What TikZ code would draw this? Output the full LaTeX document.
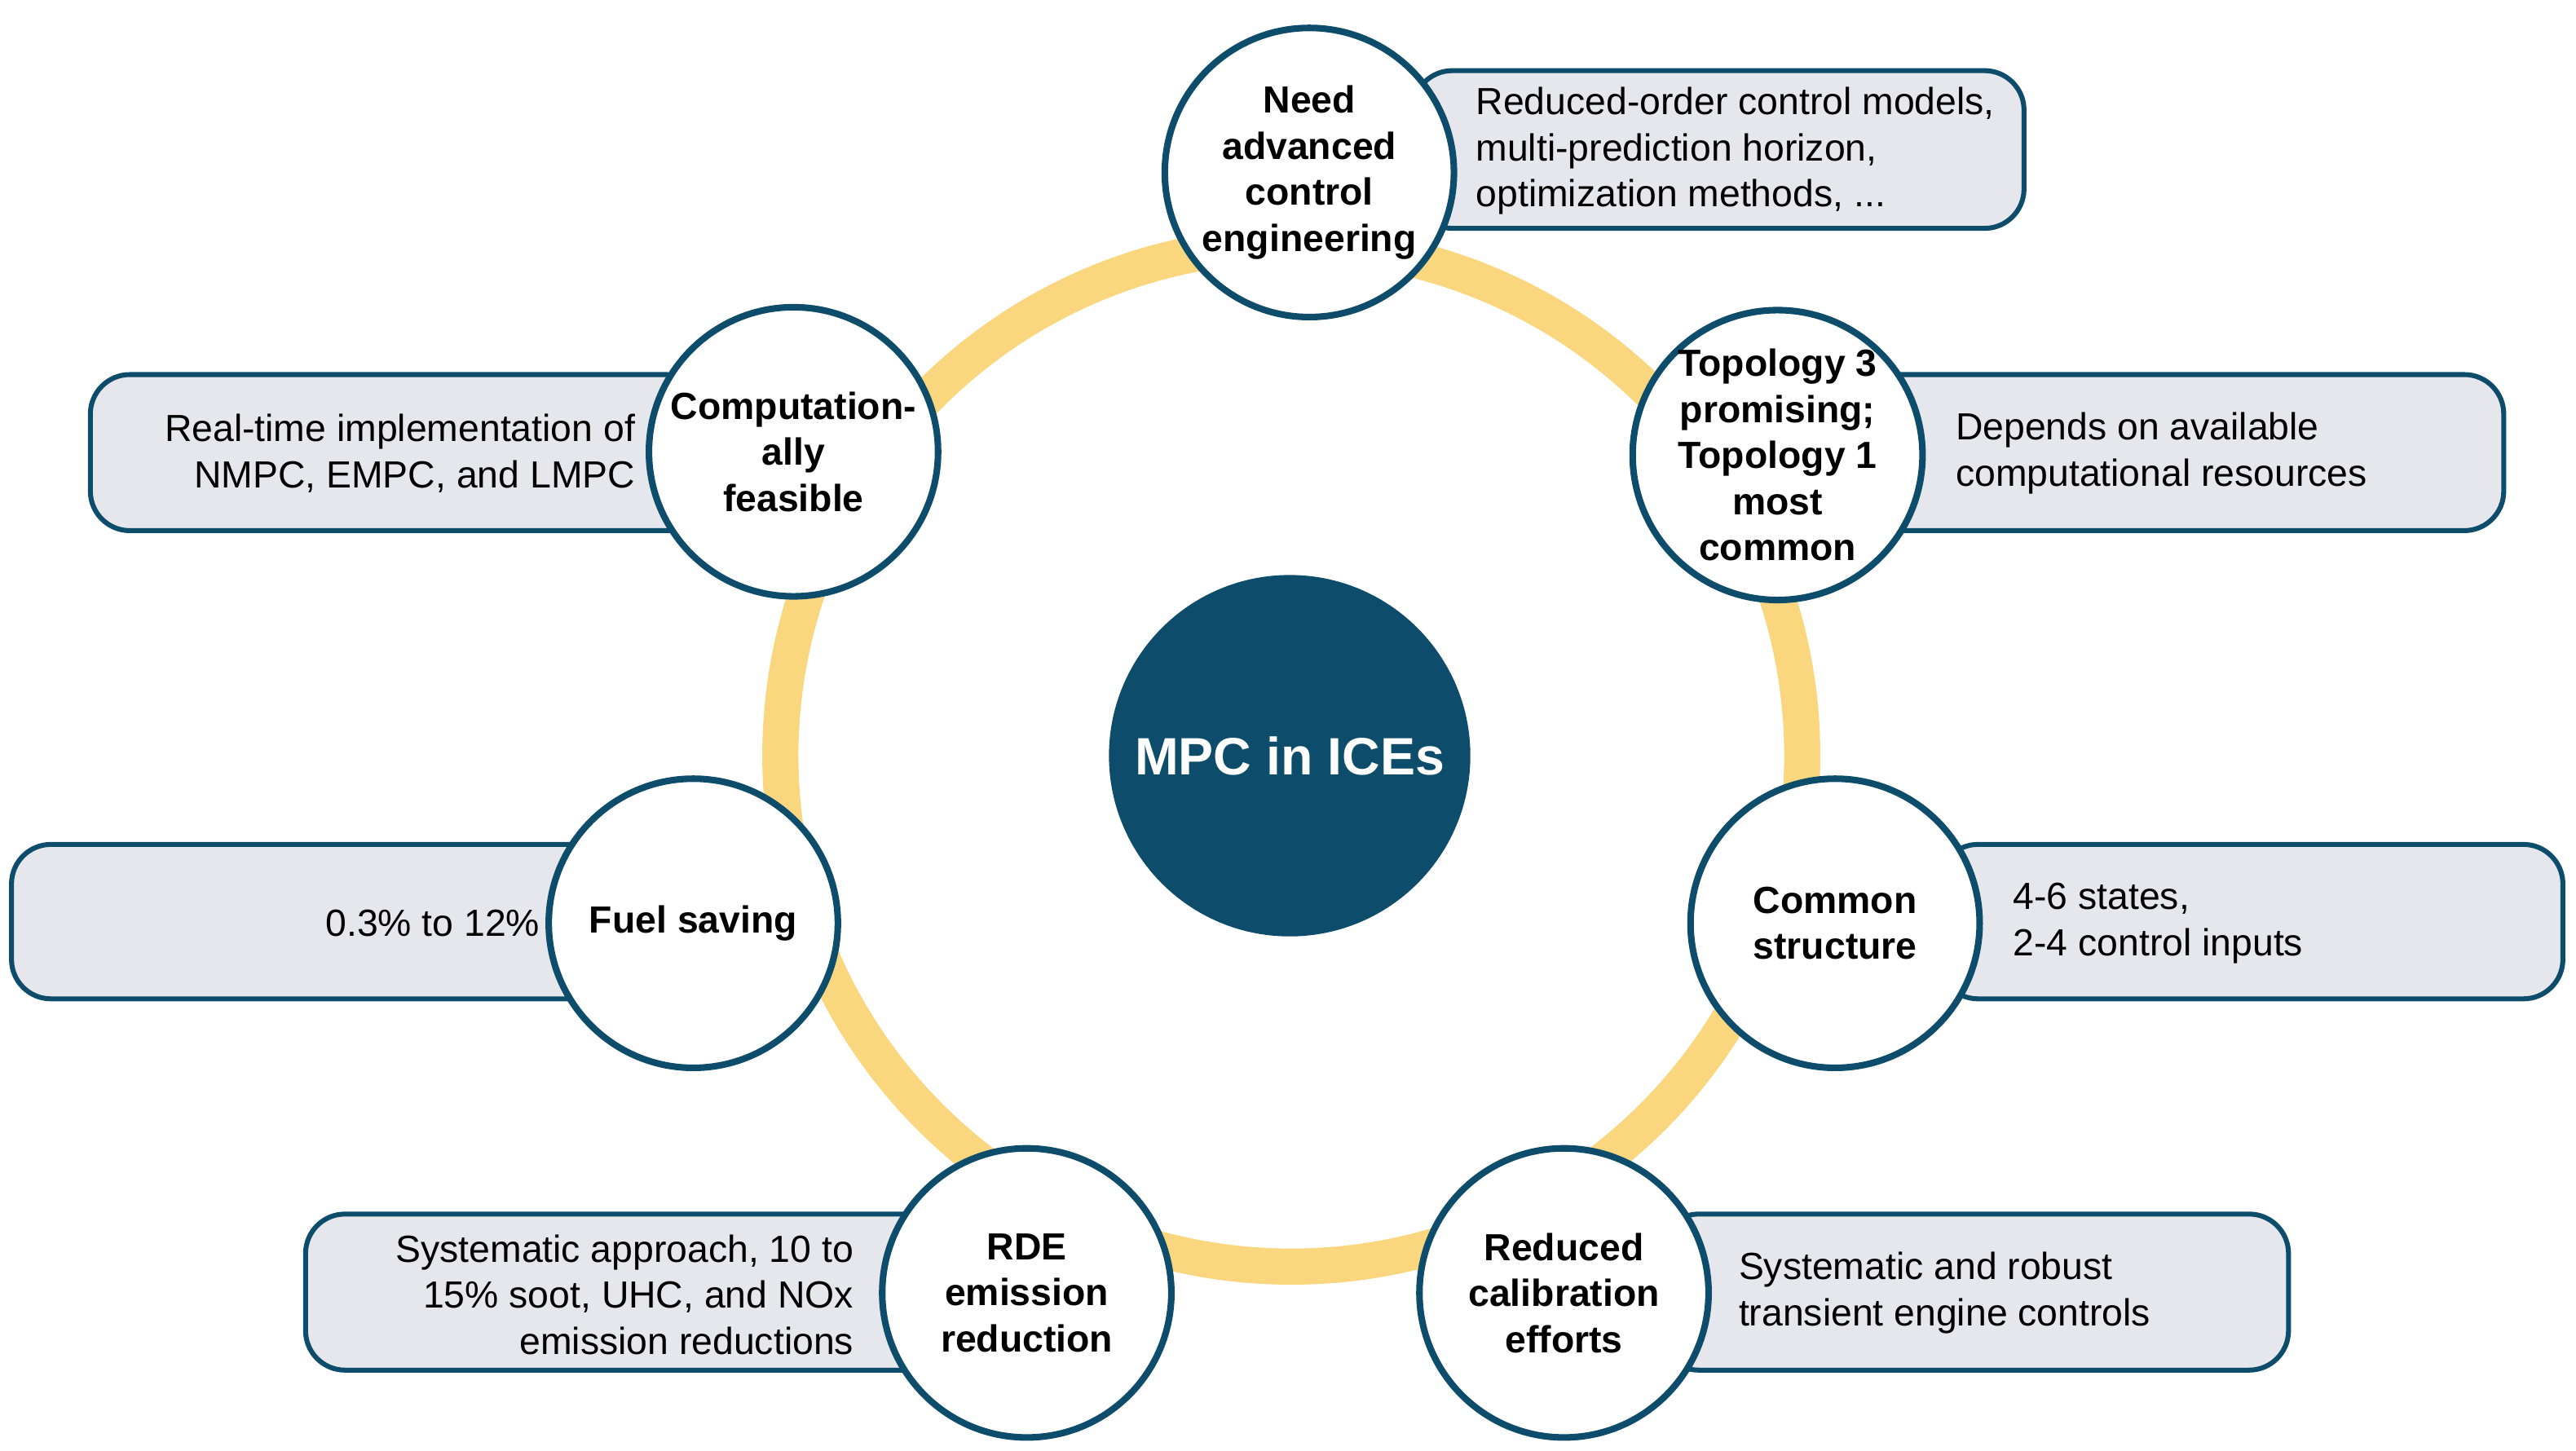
\documentclass[tikz,border=0pt]{standalone}
\usepackage{fontspec}
\setmainfont{Liberation Sans}
\definecolor{teal}{HTML}{0D4D6B}
\definecolor{ring}{HTML}{FAD77F}
\definecolor{boxg}{HTML}{E6E7EC}
\begin{document}
\begin{tikzpicture}[x=0.5pt,y=-0.5pt,
 box/.style={draw=teal,line width=1.5pt,fill=boxg,rounded corners=12pt},
 bub/.style={circle,draw=teal,line width=2pt,fill=white,minimum size=88pt,inner sep=0pt,align=center,font=\fontsize{11.5}{14}\selectfont\bfseries},
 txt/.style={font=\fontsize{11.5}{14}\selectfont,inner sep=0pt}]
\useasboundingbox (0,0) rectangle (1568,883);
\node[circle,draw=ring,line width=11pt,minimum size=311pt,inner sep=0pt] (ring) at (786,460) {};
\node[circle,fill=teal,minimum size=110pt,text=white,font=\fontsize{16}{19}\selectfont\bfseries] (c) at (785,460) {MPC in ICEs};
% boxes
\draw[box] (860,43) rectangle (1232,139);
\draw[box] (1130,228) rectangle (1524,323);
\draw[box] (1180,514) rectangle (1560,608);
\draw[box] (1010,739) rectangle (1393,834);
\draw[box] (186,739) rectangle (580,834);
\draw[box] (7,514) rectangle (400,608);
\draw[box] (55,228) rectangle (430,323);
% bubbles
\node[bub] (n1) at (797,105) {Need\\advanced\\control\\engineering};
\node[bub] (n2) at (1082,277) {Topology 3\\promising;\\Topology 1\\most\\common};
\node[bub] (n3) at (1117,562) {Common\\structure};
\node[bub] (n4) at (952,787) {Reduced\\calibration\\efforts};
\node[bub] (n5) at (625,787) {RDE\\emission\\reduction};
\node[bub] (n6) at (422,562) {Fuel saving};
\node[bub] (n7) at (483,275) {Computation-\\ally\\feasible};
% texts
\node[txt,anchor=west,align=left] (t1) at (898,92) {Reduced-order control models,\\multi-prediction horizon,\\optimization methods, ...};
\node[txt,anchor=west,align=left] (t2) at (1190,276) {Depends on available\\computational resources};
\node[txt,anchor=west,align=left] (t3) at (1225,562) {4-6 states,\\2-4 control inputs};
\node[txt,anchor=west,align=left] (t4) at (1058,787) {Systematic and robust\\transient engine controls};
\node[txt,anchor=east,align=right] (t5) at (520,788) {Systematic approach, 10 to\\15\% soot, UHC, and NOx\\emission reductions};
\node[txt,anchor=east,align=right] (t6) at (329,562) {0.3\% to 12\%};
\node[txt,anchor=east,align=right] (t7) at (387,276) {Real-time implementation of\\NMPC, EMPC, and LMPC};
\end{tikzpicture}
\end{document}
